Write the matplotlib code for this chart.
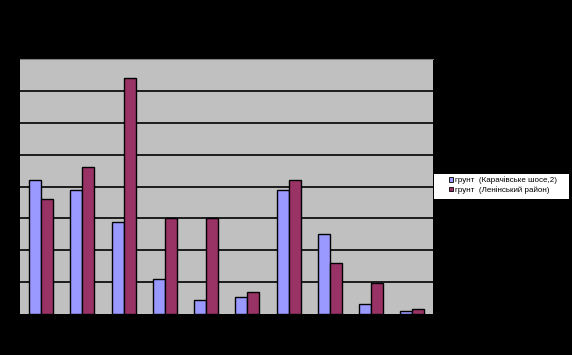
import matplotlib.pyplot as plt
from matplotlib.patches import Rectangle
import numpy as np

plt.rcParams['font.family'] = ['Liberation Sans', 'DejaVu Sans']

# значення по групах (в одиницях сітки)
groups = list(range(1, 11))
series1_name = 'грунт  (Карачівське шосе,2)'
series2_name = 'грунт  (Ленінський район)'
series1 = [4.20, 3.88, 2.88, 1.09, 0.44, 0.53, 3.88, 2.50, 0.30, 0.08]
series2 = [3.60, 4.61, 7.40, 3.00, 3.00, 0.68, 4.20, 1.59, 0.97, 0.16]

fig = plt.figure(figsize=(5.72, 3.55), dpi=100, facecolor='black')
ax = fig.add_axes([0.0358, 0.1155, 0.7212, 0.7175])
ax.set_facecolor('#C0C0C0')

x = np.arange(len(groups))
w = 0.29
ax.bar(x - w / 2, series1, w, color='#9999FF', edgecolor='black', linewidth=1,
       label=series1_name, zorder=3)
ax.bar(x + w / 2, series2, w, color='#993366', edgecolor='black', linewidth=1,
       label=series2_name, zorder=3)

ax.set_xlim(-0.5, len(groups) - 0.5)
ax.set_ylim(0, 8)
ax.set_yticks(range(1, 8))
ax.yaxis.grid(True, color='black', linewidth=1.2, zorder=0)
ax.tick_params(left=False, bottom=False, labelleft=False, labelbottom=False)
for s in ['left', 'right', 'bottom']:
    ax.spines[s].set_visible(False)
ax.spines['top'].set_color('#808080')

# біла рамка легенди
fig.patches.append(Rectangle((0.7587, 0.4394), 0.236, 0.0704, transform=fig.transFigure,
                             facecolor='white', edgecolor='none', zorder=1))
leg = fig.legend(loc='center left', bbox_to_anchor=(0.785, 0.4783),
                 fontsize=5.8, frameon=False,
                 handlelength=0.55, handleheight=0.55, handletextpad=0.25,
                 borderpad=0, labelspacing=0.2, borderaxespad=0)
leg.set_zorder(2)
for h in leg.legend_handles:
    h.set_linewidth(0.6)

fig.savefig('out.png', dpi=100, facecolor='black')
